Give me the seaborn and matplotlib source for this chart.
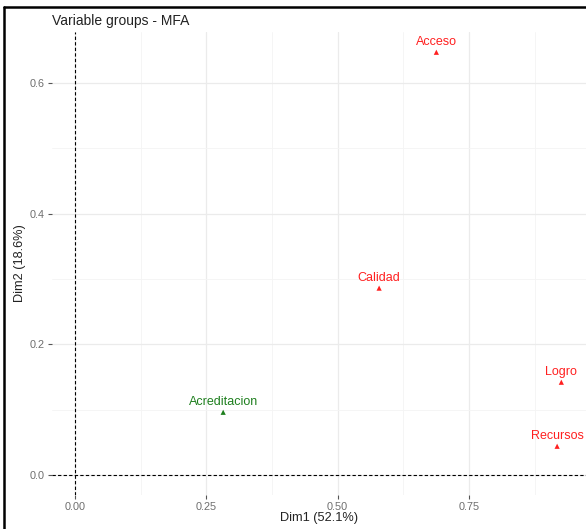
import matplotlib
matplotlib.use("Agg")
import matplotlib.pyplot as plt
from matplotlib.lines import Line2D
from matplotlib.ticker import MultipleLocator
import seaborn as sns
import pandas as pd

# MFA variable groups coordinates
groups = ["Acceso", "Calidad", "Acreditacion", "Logro", "Recursos"]
dim1 = [0.688, 0.579, 0.282, 0.926, 0.918]
dim2 = [0.647, 0.286, 0.096, 0.142, 0.044]
kind = ["active", "active", "supplementary", "active", "active"]
palette = {"active": "#FF2020", "supplementary": "#1E7F1E"}

df = pd.DataFrame({"group": groups, "Dim1": dim1, "Dim2": dim2, "kind": kind})

sns.set_style("white")
plt.rcParams["font.family"] = ["Liberation Sans", "DejaVu Sans"]

fig = plt.figure(figsize=(5.86, 5.29), dpi=100)
ax = fig.add_axes([52 / 586, 1 - 495 / 529, 1 - 52 / 586, (495 - 32) / 529])

ax.xaxis.set_major_locator(MultipleLocator(0.25))
ax.xaxis.set_minor_locator(MultipleLocator(0.125))
ax.yaxis.set_major_locator(MultipleLocator(0.2))
ax.yaxis.set_minor_locator(MultipleLocator(0.1))
ax.grid(which="major", color="#EBEBEB", lw=0.9)
ax.grid(which="minor", color="#F4F4F4", lw=0.6)
ax.set_axisbelow(True)

ax.axhline(0, color="black", lw=0.8, ls=(0, (3, 2)), zorder=1)
ax.axvline(0, color="black", lw=0.8, ls=(0, (3, 2)), zorder=1)

sns.scatterplot(data=df, x="Dim1", y="Dim2", hue="kind", palette=palette,
                marker="^", s=14, linewidth=0, legend=False, ax=ax, zorder=3)

for g, x, y, k in zip(groups, dim1, dim2, kind):
    ax.annotate(g, (x, y), xytext=(0, 10.5), textcoords="offset pixels",
                ha="center", va="center", fontsize=9, color=palette[k])

ax.set_xlim(-0.044, 0.973)
ax.set_ylim(-0.0306, 0.678)
for s in ax.spines.values():
    s.set_visible(False)

ax.set_xticks([0.0, 0.25, 0.5, 0.75])
ax.set_xticklabels(["0.00", "0.25", "0.50", "0.75"])
ax.set_yticks([0.0, 0.2, 0.4, 0.6])
ax.set_yticklabels(["0.0", "0.2", "0.4", "0.6"])
ax.tick_params(which="major", length=3, width=0.8, color="#555555",
               labelcolor="#6E6E6E", labelsize=7.8, pad=2, left=True, bottom=True)
ax.tick_params(which="minor", length=0)

ax.set_xlabel("Dim1 (52.1%)", fontsize=9.2, color="#222222", labelpad=0)
ax.set_ylabel("Dim2 (18.6%)", fontsize=9.2, color="#222222", labelpad=3)
ax.set_title("Variable groups - MFA", fontsize=10, color="#222222",
             loc="left", pad=5)

# black frame on the top and left edges of the screenshot
fig.add_artist(Line2D([4 / 586, 4 / 586], [0, 1 - 7 / 529], color="black", lw=1.8))
fig.add_artist(Line2D([4 / 586, 1], [1 - 7 / 529, 1 - 7 / 529], color="black", lw=1.8))

fig.savefig("out.png", dpi=100)
